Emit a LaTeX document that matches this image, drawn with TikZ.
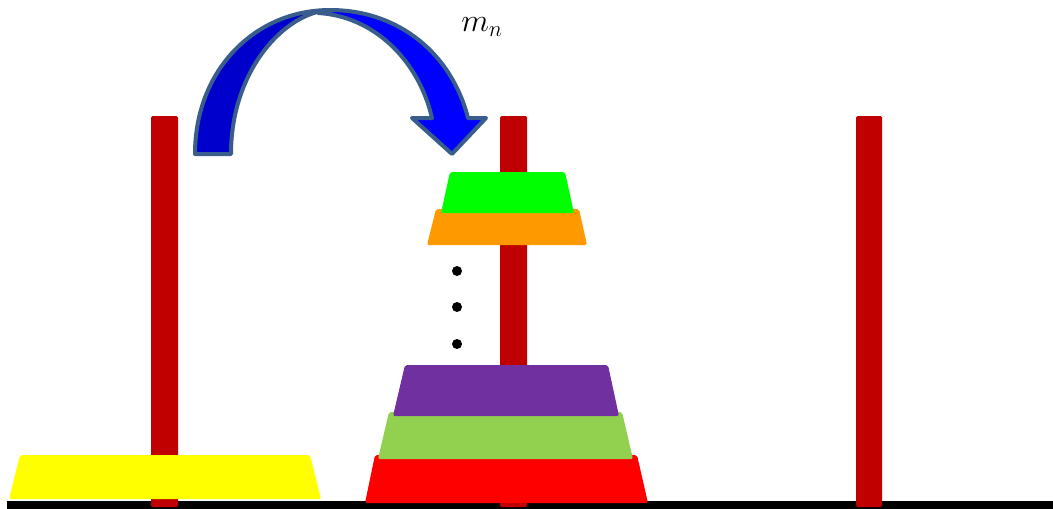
\documentclass[tikz,border=0pt]{standalone}
\usepackage{graphicx}
\usepackage{tikz}
\definecolor{pegred}{RGB}{192,0,0}
\definecolor{dyellow}{RGB}{255,255,0}
\definecolor{dred}{RGB}{255,0,0}
\definecolor{dlgreen}{RGB}{146,208,80}
\definecolor{dpurple}{RGB}{112,48,160}
\definecolor{dorange}{RGB}{255,153,0}
\definecolor{dgreen}{RGB}{0,255,0}
\definecolor{arrowdark}{RGB}{0,0,204}
\definecolor{arrowlight}{RGB}{0,0,255}
\definecolor{arrowedge}{RGB}{58,94,140}
\tikzset{
  peg/.style={fill=pegred, rounded corners=1.5pt},
  disk/.style={rounded corners=2pt},
  band/.style={draw=arrowedge, line width=4pt, line join=round},
  dot/.style={circle, fill=black, inner sep=0pt, minimum size=10pt}
}
\begin{document}
\begin{tikzpicture}[x=1pt,y=-1pt]
\useasboundingbox (0,0) rectangle (1053,509);
% base
\fill[black] (7,501) rectangle (1053,509);
% pegs
\fill[peg] (151,116) rectangle (178,507);
\fill[peg] (500,116) rectangle (527,507);
\fill[peg] (856,116) rectangle (882,507);
% disks on left peg
\fill[disk, dyellow] (9,499) -- (20,455) -- (310,455) -- (321,499) -- cycle;
% disks on middle peg
\fill[disk, dred] (365,503) -- (375,455) -- (637,455) -- (648,503) -- cycle;
\fill[disk, dlgreen] (378,459) -- (389,412) -- (622,412) -- (633,459) -- cycle;
\fill[disk, dpurple] (393,416) -- (405,365) -- (608,365) -- (619,416) -- cycle;
\fill[disk, dorange] (427,245) -- (436,209) -- (579,209) -- (587,245) -- cycle;
\fill[disk, dgreen] (441,213) -- (450,172) -- (565,172) -- (574,213) -- cycle;
% dots
\node[dot] (d1) at (457,271) {};
\node[dot] (d2) at (457,307) {};
\node[dot] (d3) at (457,344) {};
% curved arrow
\filldraw[band, fill=arrowdark] (195,154) .. controls (195,70) and (255,10) .. (330,10)
   .. controls (285,12) and (231,70) .. (231,154) -- cycle;
\filldraw[band, fill=arrowlight] (330,10) .. controls (400,10) and (452,55) .. (468,118)
   -- (486,118) -- (452,154) -- (412,118) -- (432,118)
   .. controls (418,58) and (372,16) .. (318,13) -- cycle;
% label
\node[font=\fontsize{24}{28}\selectfont] (lbl) at (482,27) {\scalebox{1.3}{$m_n$}};
\end{tikzpicture}
\end{document}
